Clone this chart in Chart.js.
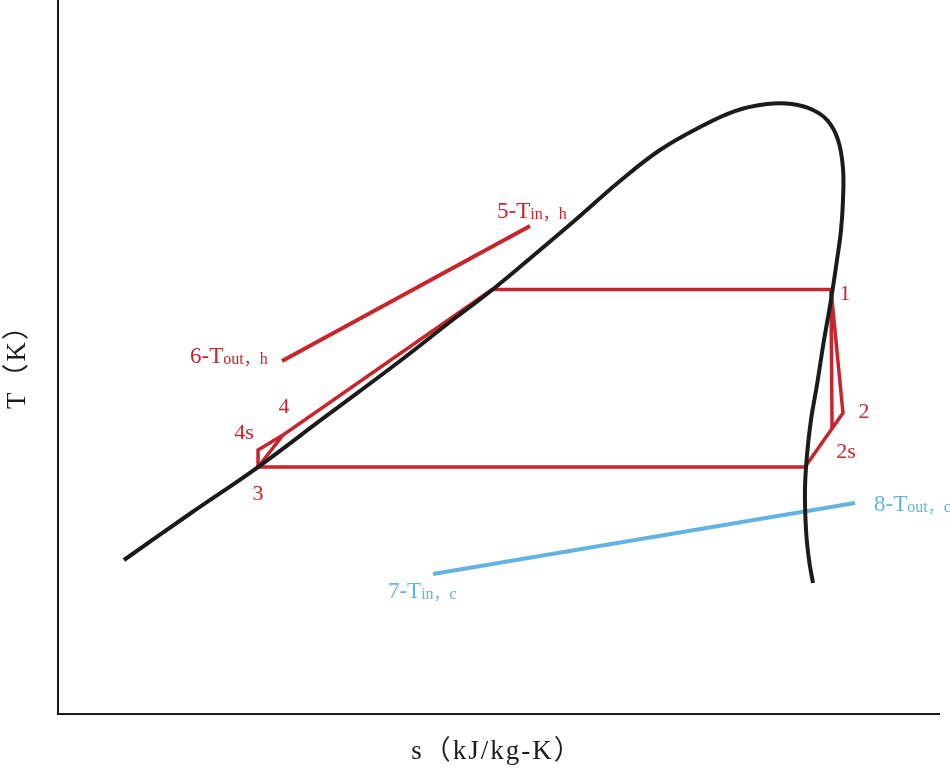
<!DOCTYPE html>
<html>
<head>
<meta charset="utf-8">
<script src="https://cdn.jsdelivr.net/npm/chart.js@4.4.1/dist/chart.umd.min.js"></script>
<style>
  html, body { margin: 0; padding: 0; background: #fff; }
</style>
</head>
<body>
<canvas id="chart" width="950" height="773"></canvas>
<script>
// saturation dome (entropy s, temperature T), arbitrary units 0-100
const domeS = [7.48, 15.08, 22.68, 30.27, 38.78, 44.44, 49.21, 54.65, 59.18, 63.72, 68.25, 72.79, 76.76, 80.39,
  83.22, 85.6, 87.3, 88.44, 89.0, 89.0, 88.78, 88.32, 87.64, 86.85, 86.05, 85.37, 84.92, 84.69, 84.81, 85.15, 85.6];
const domeT = [21.57, 28.15, 34.59, 41.6, 49.44, 54.9, 59.38, 64.99, 69.75, 74.65, 78.99, 82.21, 84.45, 85.43,
  85.43, 84.59, 83.05, 80.39, 76.47, 71.99, 67.79, 63.59, 57.98, 52.38, 46.08, 41.18, 36.27, 31.37, 25.77, 21.57, 18.35];

// cycle: 3 -> bottom right -> 2 -> 1 -> top left -> 4 -> 3
const cycleS = [22.68, 84.69, 89.0, 87.64, 49.21, 25.51, 22.68];
const cycleT = [34.59, 34.59, 42.16, 59.45, 59.45, 39.08, 34.59];

// isentropic paths 1-2s and 3-4s-4
const isoS12 = [87.64, 87.76];
const isoT12 = [59.45, 40.06];
const isoS34 = [22.68, 22.68, 25.51];
const isoT34 = [34.59, 36.97, 39.08];

// hot stream 6 -> 5, cold stream 7 -> 8
const hotS = [25.4, 53.51];
const hotT = [49.44, 68.35];
const coldS = [42.52, 90.36];
const coldT = [19.61, 29.55];

// state labels
const stateNames = ["1", "2", "2s", "3", "4", "4s"];
const stateS = [89.23, 91.38, 89.34, 22.68, 25.62, 21.09];
const stateT = [58.82, 42.3, 36.69, 30.81, 43.0, 39.36];

// stream labels: main text + subscript
const streamNames = ["5-T", "6-T", "7-T", "8-T"];
const streamSubs = ["in\uFF0Ch", "out\uFF0Ch", "in\uFF0Cc", "out\uFF0Cc"];
const streamS = [49.77, 14.97, 37.41, 92.52];
const streamT = [70.59, 50.28, 17.37, 29.55];

const RED = "#c6252b";
const BLUE = "#62b3e0";
const BLACK = "#1b1b1b";
const SERIF = "'Liberation Serif', 'Noto Sans CJK SC'";

const pts = (xs, ys) => xs.map((x, i) => ({ x: x, y: ys[i] }));

const labelPlugin = {
  id: "labels",
  afterDatasetsDraw(chart) {
    const ctx = chart.ctx;
    const xs = chart.scales.x;
    const ys = chart.scales.y;
    const a = chart.chartArea;
    ctx.save();

    // axes
    ctx.strokeStyle = BLACK;
    ctx.lineWidth = 2;
    ctx.beginPath();
    ctx.moveTo(a.left, a.top);
    ctx.lineTo(a.left, a.bottom);
    ctx.lineTo(a.right, a.bottom);
    ctx.stroke();

    // axis titles
    ctx.fillStyle = BLACK;
    ctx.font = "27px " + SERIF;
    ctx.textAlign = "center";
    ctx.textBaseline = "middle";
    ctx.letterSpacing = "2px";
    ctx.fillText("s\uFF08kJ/kg-K\uFF09", 497, 752);
    ctx.translate(18, 360);
    ctx.rotate(-Math.PI / 2);
    ctx.fillText("T\uFF08K\uFF09", 0, 0);
    ctx.setTransform(1, 0, 0, 1, 0, 0);
    ctx.letterSpacing = "0px";

    // state point labels
    ctx.fillStyle = RED;
    ctx.font = "22px " + SERIF;
    stateNames.forEach((t, i) => {
      ctx.fillText(t, xs.getPixelForValue(stateS[i]), ys.getPixelForValue(stateT[i]));
    });

    // stream labels with subscripts
    ctx.textAlign = "left";
    ctx.textBaseline = "alphabetic";
    streamNames.forEach((t, i) => {
      const px = xs.getPixelForValue(streamS[i]);
      const py = ys.getPixelForValue(streamT[i]) + 8;
      ctx.fillStyle = i < 2 ? RED : BLUE;
      ctx.font = "23px " + SERIF;
      ctx.fillText(t, px, py);
      const w = ctx.measureText(t).width;
      ctx.font = "16px " + SERIF;
      ctx.fillText(streamSubs[i], px + w, py + 1);
    });
    ctx.restore();
  }
};

new Chart(document.getElementById("chart"), {
  type: "scatter",
  data: {
    datasets: [
      { data: pts(domeS, domeT), borderColor: BLACK, borderWidth: 4, tension: 0.4 },
      { data: pts(hotS, hotT), borderColor: RED, borderWidth: 4 },
      { data: pts(coldS, coldT), borderColor: BLUE, borderWidth: 4 },
      { data: pts(cycleS, cycleT), borderColor: RED, borderWidth: 3.5 },
      { data: pts(isoS12, isoT12), borderColor: RED, borderWidth: 3.5 },
      { data: pts(isoS34, isoT34), borderColor: RED, borderWidth: 3.5 }
    ].map(d => Object.assign(d, { showLine: true, pointRadius: 0, borderJoinStyle: "miter", fill: false }))
  },
  options: {
    responsive: false,
    animation: false,
    layout: { padding: { left: 58, right: 10, top: 0, bottom: 59 } },
    plugins: { legend: { display: false }, tooltip: { enabled: false } },
    scales: {
      x: { type: "linear", min: 0, max: 100, display: false },
      y: { type: "linear", min: 0, max: 100, display: false }
    }
  },
  plugins: [labelPlugin]
});
</script>
</body>
</html>
